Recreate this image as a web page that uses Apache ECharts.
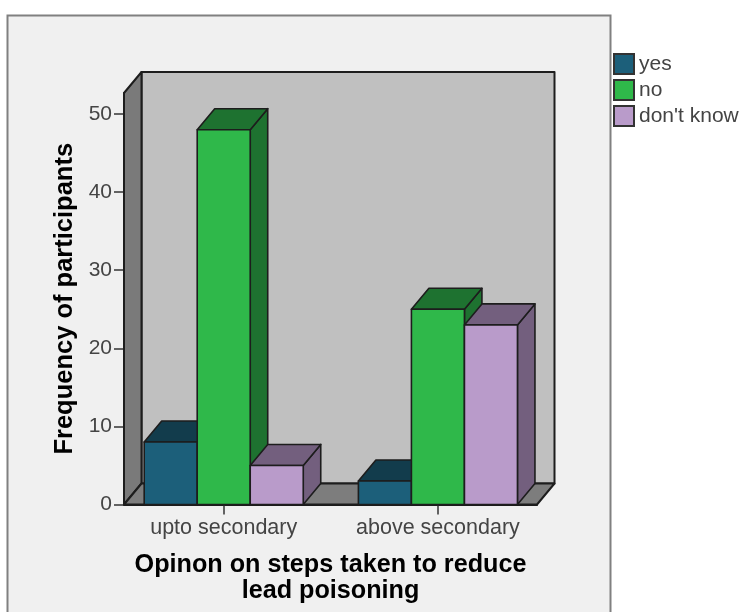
<!DOCTYPE html>
<html><head><meta charset="utf-8">
<style>html,body{margin:0;padding:0;background:#fff}#c{width:741px;height:612px}</style>
<script src="https://cdn.jsdelivr.net/npm/echarts@6/dist/echarts.min.js"></script>
</head><body><div id="c"></div>
<script>
const categories = ['upto secondary', 'above secondary'];
const seriesNames = ['yes', 'no', "don't know"];
const yesValues = [8, 3];
const noValues = [48, 25];
const dontKnowValues = [5, 23];
const yTicks = [0, 10, 20, 30, 40, 50];
const yTop = 52.7;
const xMin = -0.4655, xMax = 1.4625;
const frontColors = ['#1c5f7a', '#2fb84a', '#b99bca'];
const shadeColors = ['#123c4c', '#1e7230', '#735f7e'];
const line = '#1d1d1d', DX = 17.5, DY = -21, BAR = 0.2475;
const FONT = '"Liberation Sans", Arial, sans-serif';

const chart = echarts.init(document.getElementById('c'), null, {renderer: 'canvas'});
const poly = (pts, fill, lw) => ({type: 'polygon', shape: {points: pts},
  style: {fill, stroke: line, lineWidth: lw, lineJoin: 'round'}});

function wallRender(params, api) {
  if (params.dataIndex) return null;
  const a = api.coord([xMin, 0]), b = api.coord([xMax, yTop]);
  const off = p => [p[0] + DX, p[1] + DY];
  const bl = a, tl = [a[0], b[1]], br = [b[0], a[1]], tr = [b[0], b[1]];
  return {type: 'group', children: [
    poly([off(bl), off(tl), off(tr), off(br)], '#c0c0c0', 2),
    poly([bl, tl, off(tl), off(bl)], '#7a7a7a', 2),
    poly([bl, br, off(br), off(bl)], '#7d7d7d', 2)
  ]};
}
function barRender(si) {
  return function (params, api) {
    const g = api.value(0), w = BAR, c = (si - 1) * w;
    const l = api.coord([g + c - w / 2, api.value(1)]);
    const r = api.coord([g + c + w / 2, 0]);
    const off = p => [p[0] + DX, p[1] + DY];
    const tl = l, tr = [r[0], l[1]], br = r, bl = [l[0], r[1]];
    return {type: 'group', children: [
      poly([br, tr, off(tr), off(br)], shadeColors[si], 1.6),
      poly([tl, tr, off(tr), off(tl)], shadeColors[si], 1.6),
      poly([tl, tr, br, bl], frontColors[si], 1.6)
    ]};
  };
}
const values = [yesValues, noValues, dontKnowValues];
const axisLine = {show: true, onZero: false, lineStyle: {color: line, width: 2}};
const tickStyle = {length: 10, lineStyle: {color: '#333', width: 1.5}};
const labelStyle = {color: '#444', fontFamily: FONT};
chart.setOption({
  animation: false,
  backgroundColor: '#fff',
  graphic: [{type: 'rect', z: -10, shape: {x: 7.5, y: 15.5, width: 603, height: 610},
    style: {fill: '#f0f0f0', stroke: '#808080', lineWidth: 2}}],
  legend: {left: 613, top: 53, orient: 'vertical', itemWidth: 20, itemHeight: 20, itemGap: 4,
    data: seriesNames, icon: 'rect', textStyle: {color: '#444', fontFamily: FONT, fontSize: 21, lineHeight: 21, height: 21},
    selectedMode: false, padding: 0},
  grid: {left: 124, right: 204, top: 93, bottom: 107.5},
  xAxis: {type: 'value', min: xMin, max: xMax,
    name: 'Opinon on steps taken to reduce\nlead poisoning', nameLocation: 'middle', nameGap: 48,
    nameTextStyle: {color: '#000', fontFamily: FONT, fontWeight: 'bold', fontSize: 25.2, lineHeight: 26},
    splitLine: {show: false}, axisLine,
    axisTick: Object.assign({customValues: [0, 1]}, tickStyle),
    axisLabel: Object.assign({customValues: [0, 1], formatter: v => categories[v], margin: 13, fontSize: 21.5}, labelStyle)},
  yAxis: {type: 'value', min: 0, max: yTop,
    name: 'Frequency of participants', nameLocation: 'middle', nameRotate: 90, nameGap: 43,
    nameTextStyle: {color: '#000', fontFamily: FONT, fontWeight: 'bold', fontSize: 25.5},
    splitLine: {show: false}, axisLine,
    axisTick: Object.assign({customValues: yTicks}, tickStyle),
    axisLabel: Object.assign({customValues: yTicks, margin: 12, fontSize: 21, padding: [3, 0, 0, 0]}, labelStyle)},
  series: [{type: 'custom', name: 'walls', renderItem: wallRender, data: [[0, 0]], clip: false, z: 1, silent: true}]
    .concat(seriesNames.map((name, si) => ({
      type: 'custom', name, renderItem: barRender(si), clip: false, z: 2 + si,
      itemStyle: {color: frontColors[si], borderColor: '#333', borderWidth: 2},
      data: values[si].map((v, i) => [i, v])
    })))
});
</script></body></html>
